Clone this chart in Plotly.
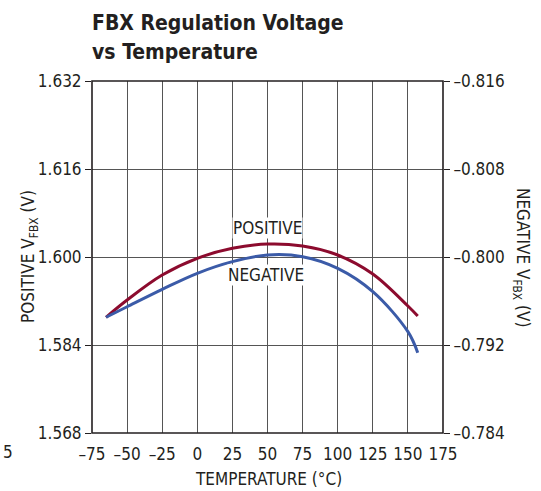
import plotly.graph_objects as go

temps = [-65, -50, -25, 0, 25, 50, 75, 100, 125, 150, 157]
positive_v = [1.58904, 1.59218, 1.59673, 1.59976, 1.60158, 1.60236, 1.60200, 1.60036, 1.59691, 1.59109, 1.58927]
negative_v = [-0.79452, -0.79548, -0.79706, -0.79852, -0.79958, -0.80018, -0.80003, -0.79897, -0.79685, -0.79321, -0.79130]

x_ticks = [-75, -50, -25, 0, 25, 50, 75, 100, 125, 150, 175]
x_labels = ["–75", "–50", "–25", "0", "25", "50", "75", "100", "125", "150", "175"]
y_ticks = [1.568, 1.584, 1.600, 1.616, 1.632]
y_labels = ["1.568", "1.584", "1.600", "1.616", "1.632"]
y2_ticks = [-0.784, -0.792, -0.800, -0.808, -0.816]
y2_labels = ["–0.784", "–0.792", "–0.800", "–0.808", "–0.816"]

FONT = "DejaVu Sans Condensed, DejaVu Sans, sans-serif"
TXT = "#231f20"
W, H = 541, 491
L, R, T, B = 92, 98, 81, 58
pw, ph = W - L - R, H - T - B

def px(x):
    return (x - L) / pw

def py(y):
    return 1 - (y - T) / ph

def f(size, bold=False):
    d = dict(family=FONT, size=size, color=TXT)
    if bold:
        d["weight"] = "bold"
    return d

fig = go.Figure()
fig.add_trace(go.Scatter(x=temps, y=positive_v, mode="lines", line=dict(color="#8c0b2e", width=3, shape="spline"),
                         yaxis="y", showlegend=False, hoverinfo="skip"))
fig.add_trace(go.Scatter(x=temps, y=negative_v, mode="lines", line=dict(color="#3b5ba8", width=3, shape="spline"),
                         yaxis="y2", showlegend=False, hoverinfo="skip"))

tickfont = f(17)
fig.update_layout(
    width=W, height=H,
    margin=dict(l=L, r=R, t=T, b=B, pad=0),
    paper_bgcolor="white", plot_bgcolor="white",
    xaxis=dict(range=[-75, 175], tickvals=x_ticks, ticktext=x_labels, showgrid=True, gridcolor="#555555", gridwidth=1,
               zeroline=False, showline=False, ticks="outside", ticklen=6, tickcolor="rgba(0,0,0,0)",
               tickfont=tickfont),
    yaxis=dict(range=[1.568, 1.632], tickvals=y_ticks, ticktext=y_labels, showgrid=True, gridcolor="#555555",
               gridwidth=1, zeroline=False, showline=False, ticks="outside", ticklen=6, tickcolor="#231f20",
               tickwidth=1.3, tickfont=tickfont),
    yaxis2=dict(range=[-0.784, -0.816], tickvals=y2_ticks, ticktext=y2_labels, overlaying="y", side="right",
                showgrid=False, zeroline=False, showline=False, ticks="outside", ticklen=6, tickcolor="#231f20",
                tickwidth=1.3, tickfont=tickfont),
    shapes=[dict(type="rect", xref="paper", yref="paper", x0=0, y0=0, x1=1, y1=1,
                 line=dict(color="#231f20", width=1.6), layer="above")],
)

ann = []
ann.append(dict(text="FBX Regulation Voltage", xref="paper", yref="paper", x=px(90), y=py(37),
                xanchor="left", yanchor="bottom", showarrow=False, font=f(21, True)))
ann.append(dict(text="vs Temperature", xref="paper", yref="paper", x=px(90), y=py(66),
                xanchor="left", yanchor="bottom", showarrow=False, font=f(21, True)))
ann.append(dict(text="POSITIVE", xref="paper", yref="paper", x=px(267), y=py(228), xanchor="center",
                yanchor="middle", showarrow=False, bgcolor="white", borderpad=0, font=f(17)))
ann.append(dict(text="NEGATIVE", xref="paper", yref="paper", x=px(266), y=py(275), xanchor="center",
                yanchor="middle", showarrow=False, bgcolor="white", borderpad=0, font=f(17)))
ann.append(dict(text="TEMPERATURE (°C)", xref="paper", yref="paper", x=px(268), y=py(479), xanchor="center",
                yanchor="middle", showarrow=False, font=f(17)))
ann.append(dict(text="POSITIVE V<sub>FBX</sub> (V)", xref="paper", yref="paper", x=px(29), y=py(257),
                xanchor="center", yanchor="middle", textangle=-90, showarrow=False, font=f(17)))
ann.append(dict(text="NEGATIVE V<sub>FBX</sub> (V)", xref="paper", yref="paper", x=px(522), y=py(257),
                xanchor="center", yanchor="middle", textangle=90, showarrow=False, font=f(17)))
ann.append(dict(text="5", xref="paper", yref="paper", x=px(8), y=py(452), xanchor="center",
                yanchor="middle", showarrow=False, font=f(17)))
fig.update_layout(annotations=ann)

css = ("var s=document.createElement('style');"
       "s.textContent='body{margin:0;overflow:hidden} svg text{font-stretch:condensed !important;}';"
       "document.head.appendChild(s);")
fig.write_html("out.html", post_script=css, config={"displayModeBar": False})
